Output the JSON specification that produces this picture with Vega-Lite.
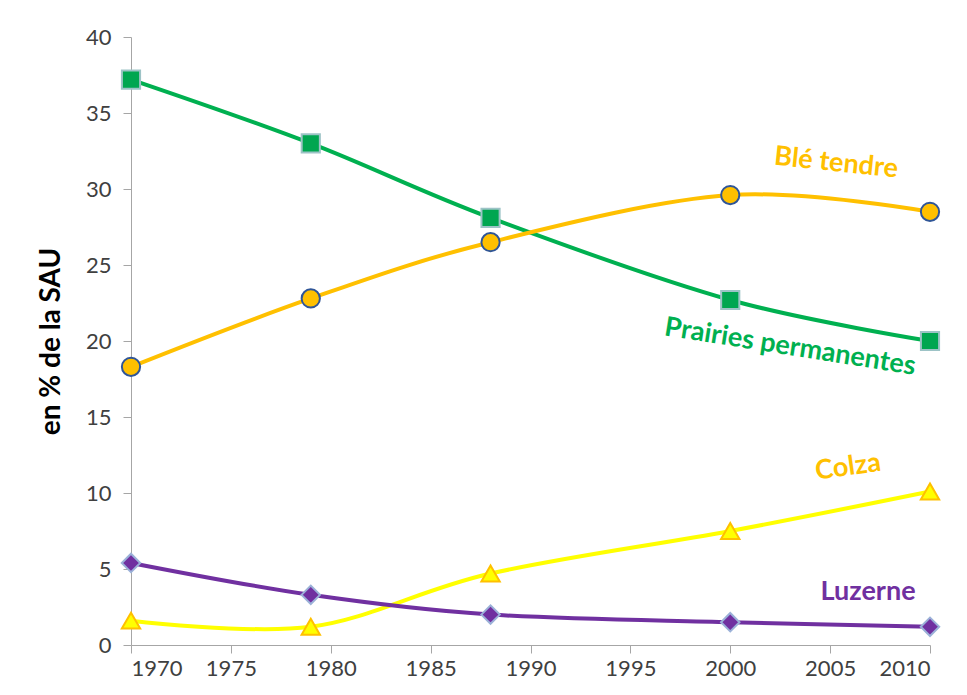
{
  "$schema": "https://vega.github.io/schema/vega-lite/v6.json",
  "autosize": "none",
  "width": 799,
  "height": 608,
  "padding": {"left": 131, "top": 37, "right": 37, "bottom": 50},
  "background": "white",
  "config": {
    "view": {"stroke": null},
    "font": "Lato",
    "axis": {"grid": false, "domainColor": "#a6a6a6", "tickColor": "#a6a6a6", "tickSize": 8, "labelFont": "Lato", "labelFontSize": 22, "labelColor": "#404040"}
  },
  "datasets": {
    "series": [
      {"year": 1970, "value": 37.2, "series": "Prairies permanentes"},
      {"year": 1979, "value": 33.0, "series": "Prairies permanentes"},
      {"year": 1988, "value": 28.1, "series": "Prairies permanentes"},
      {"year": 2000, "value": 22.7, "series": "Prairies permanentes"},
      {"year": 2010, "value": 20.0, "series": "Prairies permanentes"},
      {"year": 1970, "value": 18.3, "series": "Blé tendre"},
      {"year": 1979, "value": 22.8, "series": "Blé tendre"},
      {"year": 1988, "value": 26.5, "series": "Blé tendre"},
      {"year": 2000, "value": 29.6, "series": "Blé tendre"},
      {"year": 2010, "value": 28.5, "series": "Blé tendre"},
      {"year": 1970, "value": 1.6, "series": "Colza"},
      {"year": 1979, "value": 1.2, "series": "Colza"},
      {"year": 1988, "value": 4.7, "series": "Colza"},
      {"year": 2000, "value": 7.5, "series": "Colza"},
      {"year": 2010, "value": 10.1, "series": "Colza"},
      {"year": 1970, "value": 5.4, "series": "Luzerne"},
      {"year": 1979, "value": 3.3, "series": "Luzerne"},
      {"year": 1988, "value": 2.0, "series": "Luzerne"},
      {"year": 2000, "value": 1.5, "series": "Luzerne"},
      {"year": 2010, "value": 1.2, "series": "Luzerne"}
    ],
    "labels": [
      {"year": 2005.3, "value": 31.7, "series": "Blé tendre"},
      {"year": 2003.0, "value": 19.6, "series": "Prairies permanentes"},
      {"year": 2005.9, "value": 11.7, "series": "Colza"},
      {"year": 2006.9, "value": 3.5, "series": "Luzerne"}
    ]
  },
  "encoding": {
    "x": {"field": "year", "type": "quantitative", "scale": {"domain": [1970, 2010], "nice": false, "zero": false},
      "axis": {"values": [1970, 1975, 1980, 1985, 1990, 1995, 2000, 2005, 2010], "format": "d", "title": null, "labelPadding": 5}},
    "y": {"field": "value", "type": "quantitative", "scale": {"domain": [0, 40], "nice": false},
      "axis": {"values": [0, 5, 10, 15, 20, 25, 30, 35, 40], "title": "en % de la SAU", "titleFont": "Lato", "titleFontSize": 28, "titleFontWeight": "bold", "titleColor": "#000000", "titlePadding": 20, "labelPadding": 12}}
  },
  "layer": [
    {
      "data": {"name": "series"},
      "mark": {"type": "line", "interpolate": "cardinal", "strokeWidth": 4},
      "encoding": {
        "color": {"field": "series", "type": "nominal", "legend": null,
          "scale": {"domain": ["Prairies permanentes", "Blé tendre", "Colza", "Luzerne"], "range": ["#00B050", "#FFC000", "#FFFF00", "#7030A0"]}}
      }
    },
    {
      "data": {"name": "series"},
      "mark": {"type": "point", "filled": true, "opacity": 1, "strokeWidth": 2},
      "encoding": {
        "shape": {"field": "series", "type": "nominal", "legend": null,
          "scale": {"domain": ["Prairies permanentes", "Blé tendre", "Colza", "Luzerne"], "range": ["square", "circle", "triangle-up", "diamond"]}},
        "fill": {"field": "series", "type": "nominal", "legend": null,
          "scale": {"domain": ["Prairies permanentes", "Blé tendre", "Colza", "Luzerne"], "range": ["#00A650", "#FFC000", "#FFFF00", "#7030A0"]}},
        "stroke": {"field": "series", "type": "nominal", "legend": null,
          "scale": {"domain": ["Prairies permanentes", "Blé tendre", "Colza", "Luzerne"], "range": ["#9DC3C6", "#2F5597", "#FFC000", "#9BB1D8"]}},
        "size": {"field": "series", "type": "nominal", "legend": null,
          "scale": {"domain": ["Prairies permanentes", "Blé tendre", "Colza", "Luzerne"], "range": [330, 340, 380, 260]}}
      }
    },
    {
      "data": {"name": "labels"},
      "transform": [{"filter": "datum.series === 'Blé tendre'"}],
      "mark": {"type": "text", "font": "Lato", "fontSize": 27, "fontWeight": "bold", "color": "#FFC000", "angle": 6},
      "encoding": {"text": {"field": "series"}}
    },
    {
      "data": {"name": "labels"},
      "transform": [{"filter": "datum.series === 'Prairies permanentes'"}],
      "mark": {"type": "text", "font": "Lato", "fontSize": 27, "fontWeight": "bold", "color": "#00B050", "angle": 9},
      "encoding": {"text": {"field": "series"}}
    },
    {
      "data": {"name": "labels"},
      "transform": [{"filter": "datum.series === 'Colza'"}],
      "mark": {"type": "text", "font": "Lato", "fontSize": 27, "fontWeight": "bold", "color": "#FFC000", "angle": -8},
      "encoding": {"text": {"field": "series"}}
    },
    {
      "data": {"name": "labels"},
      "transform": [{"filter": "datum.series === 'Luzerne'"}],
      "mark": {"type": "text", "font": "Lato", "fontSize": 27, "fontWeight": "bold", "color": "#7030A0", "angle": 0},
      "encoding": {"text": {"field": "series"}}
    }
  ]
}
